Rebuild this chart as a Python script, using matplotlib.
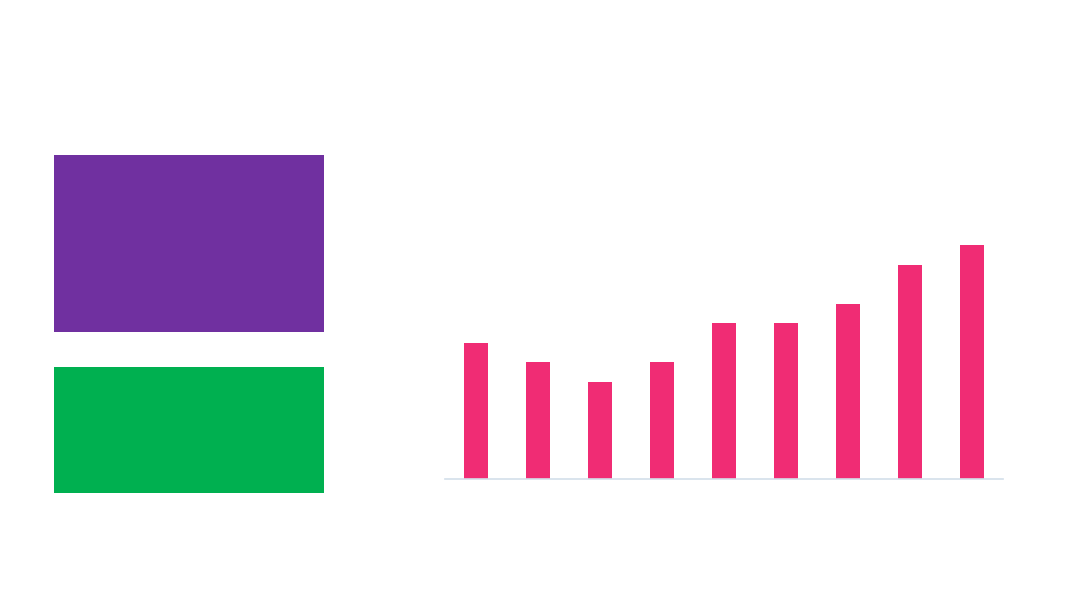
import matplotlib
matplotlib.use("Agg")
import matplotlib.pyplot as plt
from matplotlib.patches import Rectangle

categories = ["1", "2", "3", "4", "5", "6", "7", "8", "9"]
values = [7, 6, 5, 6, 8, 8, 9, 11, 12]

W, H = 1080, 608
fig = plt.figure(figsize=(W / 100, H / 100), dpi=100)
fig.patch.set_facecolor("white")

# Left decorative blocks (figure pixel coords -> fractions)
def add_block(x0, y0, x1, y1, color):
    fig.patches.append(Rectangle((x0 / W, 1 - y1 / H), (x1 - x0) / W, (y1 - y0) / H,
                                 transform=fig.transFigure, facecolor=color,
                                 edgecolor="none", figure=fig))

add_block(54, 155, 324, 332, "#7030A0")
add_block(54, 367, 324, 493, "#00B050")

# Bar chart
ax = fig.add_axes([445 / W, 129 / H, 558 / W, 233.7 / H])
x = range(len(categories))
ax.bar(x, values, width=0.4, color="#F02C74", edgecolor="none", zorder=2)
ax.set_xlim(-0.5, len(categories) - 0.5)
ax.set_ylim(0, 12)
for s in ["top", "right", "left"]:
    ax.spines[s].set_visible(False)
ax.spines["bottom"].set_color("#D3DFEA")
ax.spines["bottom"].set_linewidth(1.2)
ax.set_xticks([])
ax.set_yticks([])
ax.patch.set_alpha(0)

fig.savefig("out.png", dpi=100)
